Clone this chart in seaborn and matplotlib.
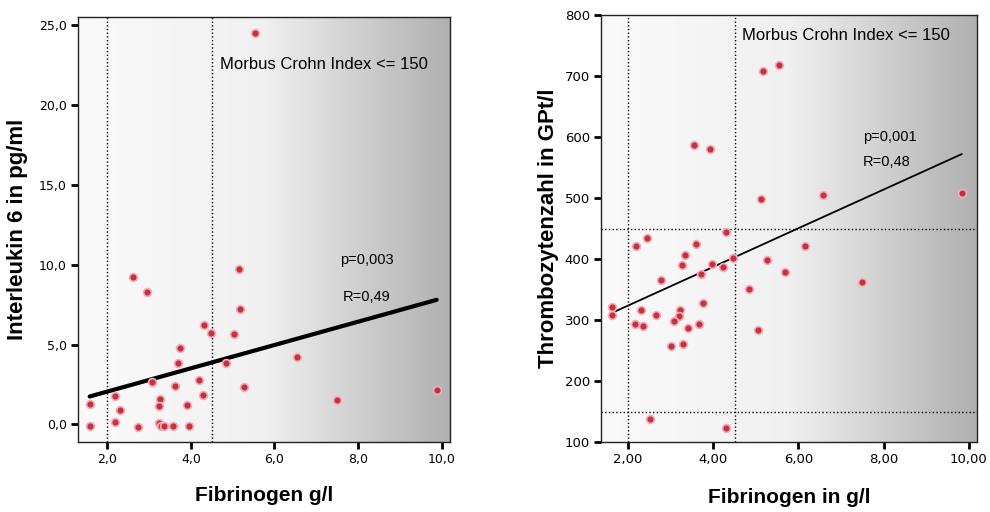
# %% IMPORTS
from matplotlib import ticker
import matplotlib.pyplot as plt
import numpy as np
import pandas as pd
import seaborn as sns

# %% DATA
# Interleukin 6 vs fibrinogen (left)
il6_fibrinogen = [1.58, 1.58, 2.62, 2.96, 2.18, 2.30, 2.18, 2.74, 3.08, 3.26, 3.24,
                  3.24, 3.28, 3.36, 3.58, 3.62, 3.73, 3.68, 3.90, 3.96, 4.20, 4.28,
                  4.32, 4.48, 4.84, 5.02, 5.14, 5.18, 5.27, 6.55, 7.49, 9.88, 5.54]
il6_values = [1.31, -0.1, 9.2, 8.3, 1.77, 0.92, 0.15, -0.15, 2.65, 1.6, 1.15,
              0.1, -0.1, -0.1, -0.1, 2.4, 4.8, 3.85, 1.2, -0.1, 2.77, 1.83,
              6.2, 5.7, 3.85, 5.65, 9.73, 7.23, 2.35, 4.23, 1.56, 2.15, 24.5]
il6_fit = (0.598, 0.729)  # intercept, slope

# Thrombozytenzahl vs fibrinogen (right)
plt_fibrinogen = [5.16, 5.55, 3.55, 3.92, 5.11, 6.57, 9.84, 2.18, 2.45, 3.59, 4.29,
                  6.16, 3.33, 5.27, 3.27, 3.96, 4.24, 4.47, 3.70, 2.78, 5.69, 7.49,
                  4.85, 3.75, 1.63, 1.63, 2.29, 2.65, 3.22, 3.20, 3.07, 2.16, 2.34,
                  3.40, 3.66, 5.04, 3.00, 3.29, 2.51, 4.31]
plt_values = [708, 718, 587, 580, 498, 505, 508, 422, 435, 424, 444,
              422, 407, 398, 390, 391, 387, 402, 376, 365, 379, 362,
              351, 328, 321, 308, 317, 308, 316, 306, 298, 293, 290,
              287, 294, 283, 258, 261, 137, 123]
plt_fit = (260.4, 31.67)  # intercept, slope

# %% STYLE
sns.set_theme(style="ticks")
plt.rcParams["font.family"] = ["Liberation Sans", "DejaVu Sans"]
plt.rcParams["text.color"] = "black"
plt.rcParams["axes.labelcolor"] = "black"
plt.rcParams["xtick.color"] = "black"
plt.rcParams["ytick.color"] = "black"

fig = plt.figure(figsize=(9.9, 5.12), dpi=100)
ax1 = fig.add_axes([0.0788, 0.1367, 0.3758, 0.830])
ax2 = fig.add_axes([0.607, 0.1367, 0.380, 0.834])

gradient = np.linspace(0, 1, 256).reshape(1, -1)
grey_cmap = plt.matplotlib.colors.LinearSegmentedColormap.from_list(
    "bg", ["#fafafa", "#f0f0f0", "#b0b0b0"]
)
point_style = dict(color="#c8303f", edgecolor="#f2b0bd", linewidth=1.2, s=32, zorder=4)


def style_axes(ax, xlim, ylim):
    ax.imshow(gradient, extent=(*xlim, *ylim), aspect="auto", cmap=grey_cmap, zorder=0)
    ax.set_xlim(xlim)
    ax.set_ylim(ylim)
    for spine in ax.spines.values():
        spine.set_color("#222222")
        spine.set_linewidth(1)
    ax.tick_params(direction="out", length=5, width=2, color="black", pad=3)
    ax.set_xticks([2, 4, 6, 8, 10])


# %% LEFT PANEL
il6 = pd.DataFrame({"fib": il6_fibrinogen, "il6": il6_values})
style_axes(ax1, (1.3, 10.2), (-1.1, 25.5))
ax1.axvline(2.0, color="black", linestyle=":", linewidth=1, zorder=2)
ax1.axvline(4.5, color="black", linestyle=":", linewidth=1, zorder=2)
sns.scatterplot(data=il6, x="fib", y="il6", ax=ax1, **point_style)
x_line = np.array([il6["fib"].min(), il6["fib"].max()])
sns.lineplot(x=x_line, y=il6_fit[0] + il6_fit[1] * x_line, ax=ax1,
             color="black", linewidth=3, zorder=3)
ax1.set_yticks([0, 5, 10, 15, 20, 25])
fmt1 = ticker.FuncFormatter(lambda v, _: f"{v:.1f}".replace(".", ","))
ax1.xaxis.set_major_formatter(fmt1)
ax1.yaxis.set_major_formatter(fmt1)
for lbl in ax1.get_xticklabels() + ax1.get_yticklabels():
    lbl.set_fontsize(9)
    lbl.set_fontfamily("DejaVu Sans")
ax1.text(4.7, 22.5, "Morbus Crohn Index <= 150", fontsize=12, va="center")
ax1.text(8.2, 10.3, "p=0,003", fontsize=10.5, ha="center", va="center")
ax1.text(8.2, 8.0, "R=0,49", fontsize=10.5, ha="center", va="center")
ax1.set_xlabel("Fibrinogen g/l", fontsize=15, fontweight="bold")
ax1.set_ylabel("Interleukin 6 in pg/ml", fontsize=16, fontweight="bold")
ax1.xaxis.set_label_coords(0.5, -0.104)
ax1.yaxis.set_label_coords(-0.134, 0.5)

# %% RIGHT PANEL
thr = pd.DataFrame({"fib": plt_fibrinogen, "thr": plt_values})
style_axes(ax2, (1.36, 10.2), (100, 800))
ax2.axvline(2.0, color="black", linestyle=":", linewidth=1, zorder=2)
ax2.axvline(4.5, color="black", linestyle=":", linewidth=1, zorder=2)
ax2.axhline(150, color="black", linestyle=":", linewidth=1, zorder=2)
ax2.axhline(450, color="black", linestyle=":", linewidth=1, zorder=2)
sns.scatterplot(data=thr, x="fib", y="thr", ax=ax2, **point_style)
x_line = np.array([thr["fib"].min(), thr["fib"].max()])
sns.lineplot(x=x_line, y=plt_fit[0] + plt_fit[1] * x_line, ax=ax2,
             color="black", linewidth=1.3, zorder=3)
ax2.set_yticks(range(100, 801, 100))
ax2.xaxis.set_major_formatter(ticker.FuncFormatter(lambda v, _: f"{v:.2f}".replace(".", ",")))
for lbl in ax2.get_xticklabels() + ax2.get_yticklabels():
    lbl.set_fontsize(9.5)
    lbl.set_fontfamily("DejaVu Sans")
ax2.text(4.68, 767, "Morbus Crohn Index <= 150", fontsize=12, va="center")
ax2.text(7.52, 600, "p=0,001", fontsize=10.5, va="center")
ax2.text(7.52, 559, "R=0,48", fontsize=10.5, va="center")
ax2.set_xlabel("Fibrinogen in g/l", fontsize=15, fontweight="bold")
ax2.set_ylabel("Thrombozytenzahl in GPt/l", fontsize=16, fontweight="bold")
ax2.xaxis.set_label_coords(0.5, -0.108)
ax2.yaxis.set_label_coords(-0.112, 0.5)

fig.savefig("out.png", dpi=100)
